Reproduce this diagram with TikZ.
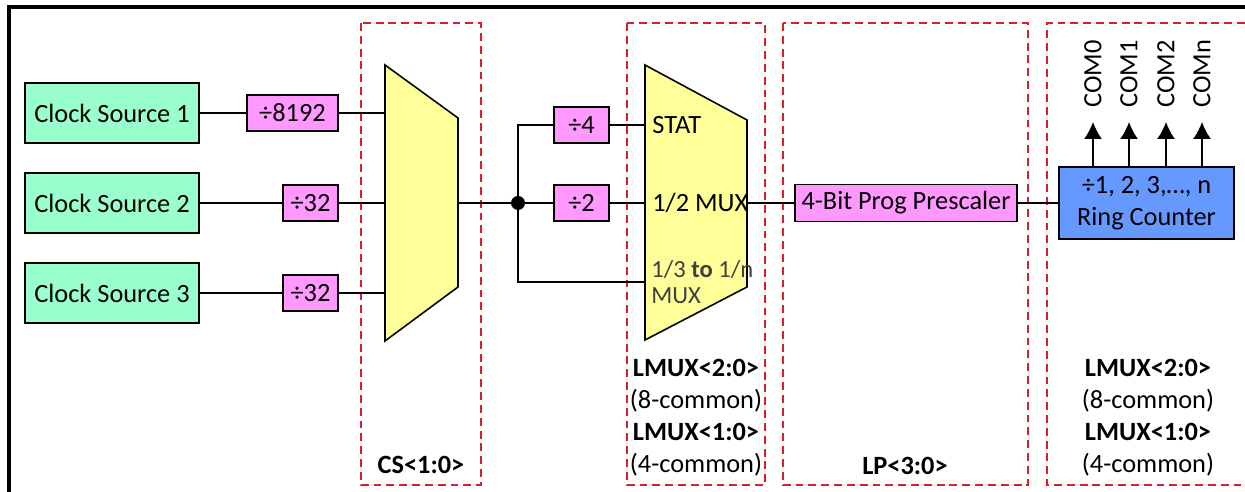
\documentclass[tikz,border=0pt]{standalone}
\usepackage{fontspec}
\setmainfont{Carlito}
\usetikzlibrary{arrows.meta, positioning, calc}
\definecolor{srcFill}{RGB}{153,255,204}
\definecolor{divFill}{RGB}{255,153,255}
\definecolor{muxFill}{RGB}{255,255,153}
\definecolor{ringFill}{RGB}{102,153,255}
\definecolor{grpRed}{RGB}{220,30,40}

\begin{document}
\begin{tikzpicture}[x=0.02cm, y=-0.02cm,
    every node/.style={font=\fontsize{15}{18.2}\selectfont},
    srcbox/.style={rectangle, draw=black, line width=0.9pt, fill=srcFill, minimum width=3.48cm, minimum height=1.2cm, inner sep=2pt},
    divbox/.style={rectangle, draw=black, line width=0.9pt, fill=divFill, minimum height=0.72cm, inner sep=2pt},
    ringbox/.style={rectangle, draw=black, line width=0.9pt, fill=ringFill, minimum width=3.5cm, minimum height=1.44cm, align=center, inner sep=2pt},
    mux/.style={draw=black, line width=0.9pt, fill=muxFill},
    grp/.style={draw=grpRed, line width=1.1pt, dash pattern=on 4.5pt off 2.8pt},
    wire/.style={line width=0.9pt, black},
    arr/.style={-{Latex[length=3.4mm, width=3.6mm]}, line width=0.9pt, black},
    muxlbl/.style={anchor=west, inner sep=0pt},
    sel/.style={align=center},
    dot/.style={circle, fill=black, inner sep=0pt, minimum size=0.28cm},
    com/.style={rotate=90, anchor=west, inner xsep=0.28cm, inner ysep=0pt},
]
\useasboundingbox (0,0) rectangle (1245,492);

% ========== FRAME + GROUPS ==========
\draw[line width=1.9pt] (9,492) -- (9,7) -- (1245,7);
\draw[grp] (361,23) rectangle (481,485);
\draw[grp] (627,23) rectangle (765,485);
\draw[grp] (783,23) rectangle (1028,485);
\draw[grp] (1245,23) -- (1047,23) -- (1047,485) -- (1245,485);

\node[font=\fontsize{15}{18.2}\selectfont\bfseries] (cslbl) at (421,465) {CS<1:0>};
\node[sel] (lmuxlbl) at (696,418) {\textbf{LMUX<2:0>}\\(8-common)\\\textbf{LMUX<1:0>}\\(4-common)};
\node[font=\fontsize{15}{18.2}\selectfont\bfseries] (lplbl) at (905,466) {LP<3:0>};
\node[sel] (ringlbl) at (1148,418) {\textbf{LMUX<2:0>}\\(8-common)\\\textbf{LMUX<1:0>}\\(4-common)};

% ========== CLOCK SOURCES ==========
\node[srcbox] (src1) at (112,113) {Clock Source 1};
\node[srcbox] (src2) at (112,203) {Clock Source 2};
\node[srcbox] (src3) at (112,293) {Clock Source 3};

\node[divbox, minimum width=1.82cm] (div8192) at (292.5,113) {÷8192};
\node[divbox, minimum width=1.1cm] (div32a) at (310.5,203) {÷32};
\node[divbox, minimum width=1.1cm] (div32b) at (310.5,293) {÷32};

% ========== CS MUX ==========
\draw[mux] (385,65) -- (458,118) -- (458,287) -- (385,341) -- cycle;
\coordinate (m1in1) at (385,113);
\coordinate (m1in2) at (385,203);
\coordinate (m1in3) at (385,293);
\coordinate (m1out) at (458,203);

\draw[wire] (src1) -- (div8192);
\draw[wire] (div8192) -- (m1in1);
\draw[wire] (src2) -- (div32a);
\draw[wire] (div32a) -- (m1in2);
\draw[wire] (src3) -- (div32b);
\draw[wire] (div32b) -- (m1in3);

% ========== LMUX ==========
\node[dot] (jdot) at (518,203) {};
\node[divbox, minimum width=1.1cm] (div4) at (581.5,125) {÷4};
\node[divbox, minimum width=1.1cm] (div2) at (581.5,203) {÷2};

\draw[mux] (645,65) -- (747,120) -- (747,287) -- (645,340) -- cycle;
\coordinate (m2in1) at (645,125);
\coordinate (m2in2) at (645,203);
\coordinate (m2in3) at (645,282);
\coordinate (m2out) at (747,203);
\node[muxlbl] (stat) at (652,125) {STAT};
\node[muxlbl] (half) at (652,203) {1/2 MUX};
\node[muxlbl, align=left, text=black!75, font=\fontsize{14}{14.5}\selectfont] (nth) at (651,282) {1/3 \textbf{to} 1/n\\MUX};

\draw[wire] (m1out) -- (jdot);
\draw[wire] (jdot) -- (div2);
\draw[wire] (div2) -- (m2in2);
\draw[wire] (jdot) |- (div4);
\draw[wire] (div4) -- (m2in1);
\draw[wire] (jdot) |- (m2in3);

% ========== PRESCALER + RING ==========
\node[divbox, minimum width=4.44cm, minimum height=0.74cm] (presc) at (906,203) {4-Bit Prog Prescaler};
\node[ringbox] (ring) at (1146.5,203) {÷1, 2, 3,…, n\\Ring Counter};

\draw[wire] (m2out) -- (presc);
\draw[wire] (presc) -- (ring);

% COM outputs
\foreach \i/\x/\t in {0/1093/COM0, 1/1129/COM1, 2/1166/COM2, 3/1202/COMn} {
  \node[com] (com\i) at (\x,122) {\t};
  \draw[arr] (ring.north -| com\i) -- (com\i.west);
}

\end{tikzpicture}
\end{document}
